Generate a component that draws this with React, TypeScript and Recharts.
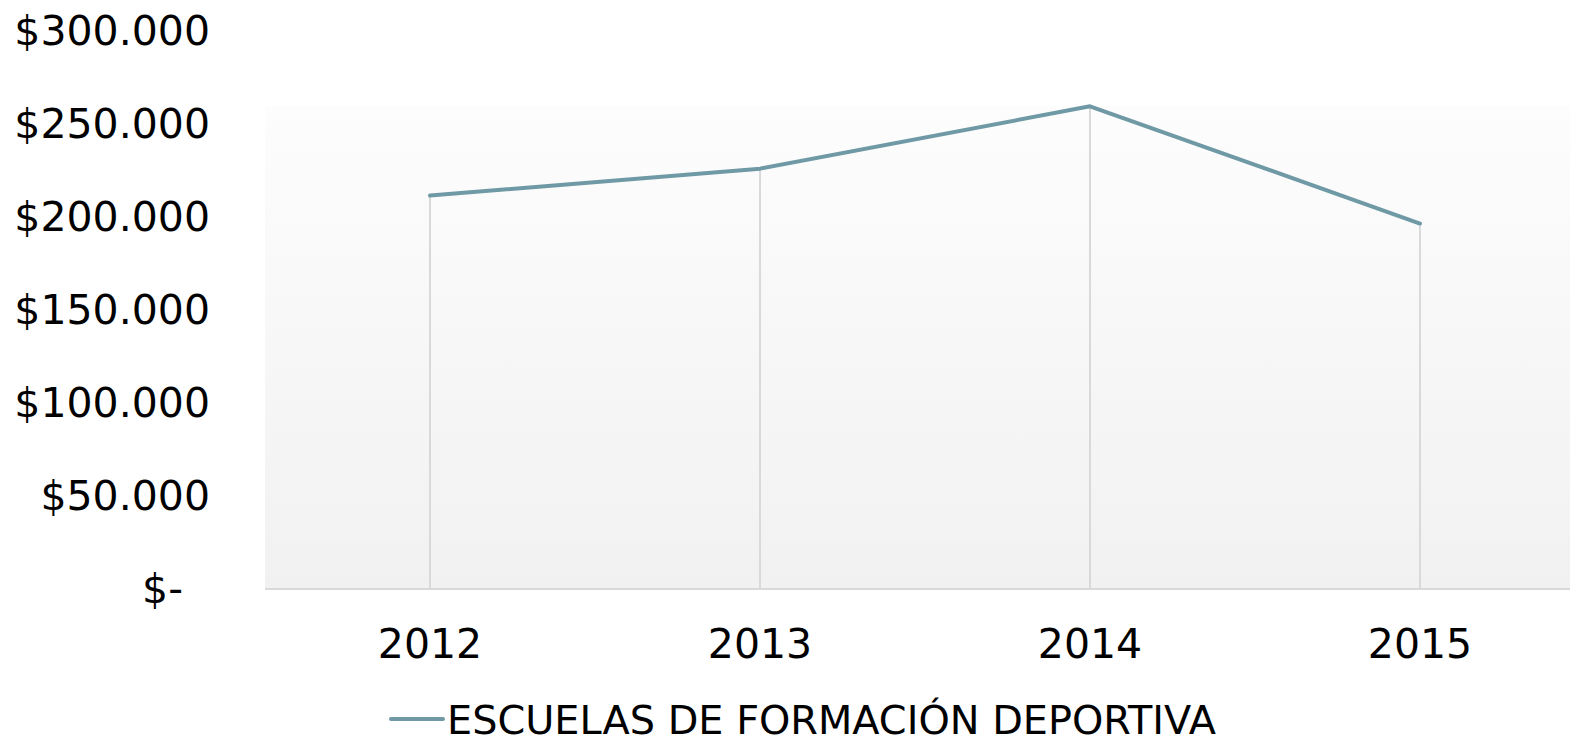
import React from 'react';
import { LineChart, Line, XAxis, YAxis, CartesianGrid, ReferenceLine, Legend } from 'recharts';

const years = ['2012', '2013', '2014', '2015'];
const values = [211500, 226000, 259500, 196500];
const yTicks = [0, 50000, 100000, 150000, 200000, 250000, 300000];
const seriesName = 'ESCUELAS DE FORMACIÓN DEPORTIVA';

const data = years.map((y, i) => ({ year: y, value: values[i] }));

const FONT = '"DejaVu Sans", sans-serif';
const LINE_COLOR = '#6e99a5';

const fmt = (v: number) => {
  if (v === 0) return '$-';
  return '$' + String(v).replace(/\B(?=(\d{3})+(?!\d))/g, '.');
};

const YTick = (props: any) => {
  const { x, y, payload } = props;
  const v = payload.value as number;
  return (
    <text x={v === 0 ? x - 27 : x} y={y} dy={14} textAnchor="end" fontFamily={FONT} fontSize={41} fill="#000">
      {fmt(v)}
    </text>
  );
};

const XTick = (props: any) => {
  const { x, y, payload } = props;
  return (
    <text x={x} y={y} dy={29} textAnchor="middle" fontFamily={FONT} fontSize={41} fill="#000">
      {payload.value}
    </text>
  );
};

const LegendContent = () => (
  <svg width={860} height={40} style={{ display: 'block' }}>
    <line x1={2} y1={23} x2={54} y2={23} stroke={LINE_COLOR} strokeWidth={4} strokeLinecap="round" />
    <text x={58} y={38} fontFamily={FONT} fontSize={39.8} fill="#000">{seriesName}</text>
  </svg>
);

export default function App() {
  return (
    <div style={{ position: 'absolute', left: 0, top: 0, width: 1570, height: 736, overflow: 'hidden', background: '#fff' }}>
      <LineChart width={1585} height={736} data={data} margin={{ top: 31, right: 0, bottom: 0, left: 0 }}>
        <defs>
          <linearGradient id="bgGrad" x1="0" y1="0" x2="0" y2="1">
            <stop offset="0" stopColor="#ffffff" />
            <stop offset="0.134" stopColor="#ffffff" />
            <stop offset="0.134" stopColor="#fdfdfd" />
            <stop offset="1" stopColor="#f1f1f1" />
          </linearGradient>
        </defs>
        <CartesianGrid horizontal={false} vertical={false} fill="url(#bgGrad)" stroke="none" />
        <XAxis
          dataKey="year"
          height={107}
          padding={{ left: 165, right: 165 }}
          tickLine={false}
          tickSize={0}
          tickMargin={40}
          axisLine={{ stroke: '#d9d9d9', strokeWidth: 2 }}
          tick={<XTick />}
          interval={0}
        />
        <YAxis
          width={265}
          domain={[0, 300000]}
          ticks={yTicks}
          axisLine={false}
          tickLine={false}
          tickSize={0}
          tickMargin={55}
          tick={<YTick />}
          interval={0}
        />
        {data.map((d) => (
          <ReferenceLine
            key={d.year}
            segment={[{ x: d.year, y: 0 }, { x: d.year, y: d.value }]}
            stroke="#d9d9d9"
            strokeWidth={2}
          />
        ))}
        <Line
          type="linear"
          dataKey="value"
          name={seriesName}
          stroke={LINE_COLOR}
          strokeWidth={4}
          strokeLinecap="round"
          strokeLinejoin="round"
          dot={false}
          activeDot={false}
          isAnimationActive={false}
        />
        <Legend
          verticalAlign="bottom"
          content={<LegendContent />}
          wrapperStyle={{ left: 389, bottom: 0, width: 860, height: 40 }}
        />
      </LineChart>
    </div>
  );
}
